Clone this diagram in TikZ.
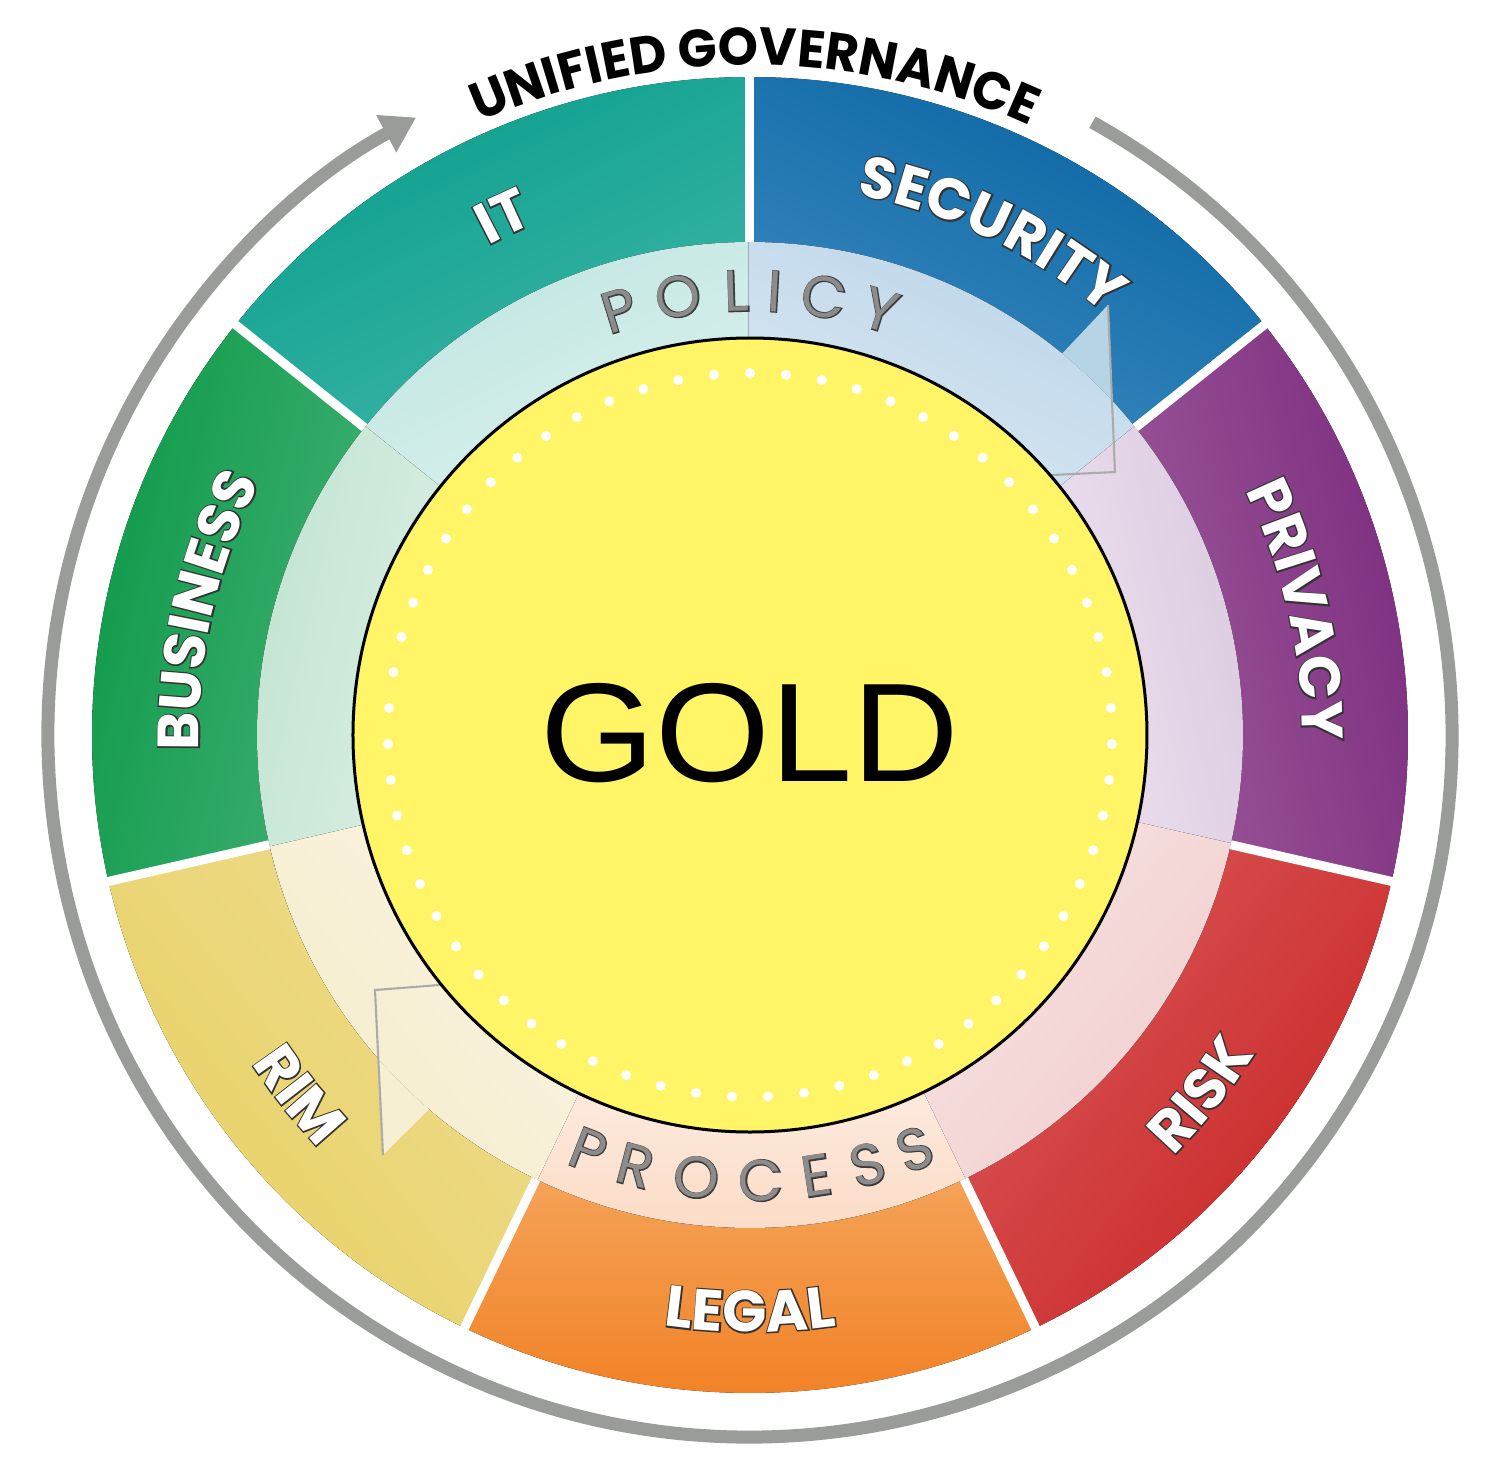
\documentclass[tikz,border=0pt]{standalone}
\usepackage{fontspec}
\usetikzlibrary{decorations.text,arrows.meta}
\newfontfamily\pop{Poppins}
\newfontfamily\popgov{Poppins}[FakeStretch=0.97]
\newfontfamily\popFB{Poppins}[FakeBold=4.5]
\newfontfamily\popFBthin{Poppins}[FakeBold=3.2]
\newfontfamily\goldfont{Liberation Sans}[FakeStretch=1.05]

\definecolor{ringgray}{HTML}{9A9C99}
\definecolor{itD}{HTML}{0A9E8D}\definecolor{itL}{HTML}{3DB5A6}\definecolor{itP}{HTML}{C0E6E1}\definecolor{itQ}{HTML}{DBF1EE}
\definecolor{secD}{HTML}{0865A2}\definecolor{secL}{HTML}{3B89BF}\definecolor{secP}{HTML}{BDD6E9}\definecolor{secQ}{HTML}{D8E7F2}
\definecolor{priD}{HTML}{7A2A7D}\definecolor{priL}{HTML}{9B5799}\definecolor{priP}{HTML}{DBC9DF}\definecolor{priQ}{HTML}{ECE2EF}
\definecolor{riskD}{HTML}{C82626}\definecolor{riskL}{HTML}{DA5555}\definecolor{riskP}{HTML}{F1CDCD}\definecolor{riskQ}{HTML}{F8E3E3}
\definecolor{legD}{HTML}{F17F22}\definecolor{legL}{HTML}{F5A257}\definecolor{legP}{HTML}{FBDAC4}\definecolor{legQ}{HTML}{FDEBDF}
\definecolor{rimD}{HTML}{E8D164}\definecolor{rimL}{HTML}{EEDB8C}\definecolor{rimP}{HTML}{F5ECCA}\definecolor{rimQ}{HTML}{FAF5E3}
\definecolor{busD}{HTML}{0B9847}\definecolor{busL}{HTML}{3FB072}\definecolor{busP}{HTML}{C0E3D0}\definecolor{busQ}{HTML}{DBEFE4}
\definecolor{goldfill}{HTML}{FFF566}
\definecolor{letgray}{HTML}{8C8C8C}
\definecolor{letdark}{HTML}{3C3C3C}
\definecolor{labdark}{HTML}{333333}
\definecolor{headline}{HTML}{ABABAB}
\definecolor{secwing}{HTML}{B7D3E6}
\definecolor{rimwing}{HTML}{F6EFD2}

\newcommand\labO{\popFB\bfseries\fontsize{16.5}{18}\selectfont\color{labdark}}
\newcommand\labW{\pop\bfseries\fontsize{16.5}{18}\selectfont\color{white}}
\newcommand\govfont{\popgov\bfseries\fontsize{15}{17}\selectfont\color{black}}

% sector: centre angle, dark, light, pale outer, pale inner
\newcommand\segsector[5]{%
  \pgfmathsetmacro\sgA{#1+25.714}\pgfmathsetmacro\sgB{#1-25.714}%
  \pgfmathsetmacro\sgS{#1-90}%
  \pgfmathsetmacro\sgAp{#1+25.9}\pgfmathsetmacro\sgBp{#1-25.9}%
  \fill[top color=#2,bottom color=#3,shading angle=\sgS] (\sgA:4.93) arc[start angle=\sgA,end angle=\sgB,radius=4.93] -- (\sgB:6.58) arc[start angle=\sgB,end angle=\sgA,radius=6.58] -- cycle;
  \fill[top color=#4,bottom color=#5,shading angle=\sgS] (\sgAp:3.85) arc[start angle=\sgAp,end angle=\sgBp,radius=3.85] -- (\sgBp:4.93) arc[start angle=\sgBp,end angle=\sgAp,radius=4.93] -- cycle;
}
% label reading clockwise (upper half): angle, radius, text
\newcommand\toplabel[3]{%
  \pgfmathsetmacro\tlA{#1+40}\pgfmathsetmacro\tlB{#1-40}%
  \path[decorate,decoration={text along path,text align=center,text={|\labO|#3}}] (\tlA:#2) arc[start angle=\tlA,end angle=\tlB,radius=#2];
  \path[decorate,decoration={text along path,text align=center,text={|\labW|#3}}] (\tlA:#2) arc[start angle=\tlA,end angle=\tlB,radius=#2];
}
% label reading counter-clockwise (lower half)
\newcommand\botlabel[3]{%
  \pgfmathsetmacro\tlA{#1-40}\pgfmathsetmacro\tlB{#1+40}%
  \path[decorate,decoration={text along path,text align=center,text={|\labO|#3}}] (\tlA:#2) arc[start angle=\tlA,end angle=\tlB,radius=#2];
  \path[decorate,decoration={text along path,text align=center,text={|\labW|#3}}] (\tlA:#2) arc[start angle=\tlA,end angle=\tlB,radius=#2];
}
% spaced band letters: name, angle, letter
\newcommand\topletter[3]{%
  \pgfmathsetmacro\lrot{#2-90}%
  \node[bandO,rotate=\lrot] (#1o) at (#2:4.24) {#3};
  \node[bandW,rotate=\lrot] (#1) at (#2:4.24) {#3};
}
\newcommand\botletter[3]{%
  \pgfmathsetmacro\lrot{#2+90}%
  \node[bandO,rotate=\lrot] (#1o) at (#2:4.66) {#3};
  \node[bandW,rotate=\lrot] (#1) at (#2:4.66) {#3};
}

\tikzset{
  bandO/.style={anchor=base,inner sep=0pt,text=letdark,font=\popFBthin\fontsize{16.5}{18}\selectfont},
  bandW/.style={anchor=base,inner sep=0pt,text=letgray,font=\pop\fontsize{16.5}{18}\selectfont},
  separator/.style={white,line width=0.09cm},
  headedge/.style={headline,line width=0.6pt},
  govring/.style={ringgray,line width=0.13cm,-{Triangle[length=0.34cm,width=0.40cm]}},
}

\begin{document}
\begin{tikzpicture}
\useasboundingbox (-7.5,-7.36) rectangle (7.5,7.35);
\fill[white] (-7.5,-7.36) rectangle (7.5,7.35);

% outer governance ring with arrow
\draw[govring] (60.8:7.02) arc[start angle=60.8,end angle=-241.6,radius=7.02];

% seven sectors
\segsector{115.714}{itD}{itL}{itP}{itQ}
\segsector{64.286}{secD}{secL}{secP}{secQ}
\segsector{12.857}{priD}{priL}{priP}{priQ}
\segsector{-38.571}{riskD}{riskL}{riskP}{riskQ}
\segsector{-90}{legD}{legL}{legP}{legQ}
\segsector{-141.429}{rimD}{rimL}{rimP}{rimQ}
\segsector{167.143}{busD}{busL}{busP}{busQ}

% white separators
\foreach \k in {0,...,6} {
  \pgfmathsetmacro\sa{90-\k*51.428571}
  \draw[separator] (\sa:4.93) -- (\sa:6.68);
}

% POLICY arrow head
\coordinate (pN) at (50.7:4.93);
\coordinate (pW) at (3.58,4.30);
\coordinate (pT) at (3.65,2.63);
\coordinate (pP) at (42.8:4.93);
\coordinate (pE) at (1.98,2.55);
\fill[secwing] (pP) -- (pW) -- (pN) arc[start angle=50.7,end angle=42.8,radius=4.93] -- cycle;
\draw[headedge] (pW) -- (pT) -- (pE);

% PROCESS arrow head
\coordinate (qN) at (229.4:4.93);
\coordinate (qW) at (-3.67,-4.20);
\coordinate (qT) at (-3.75,-2.55);
\coordinate (qP) at (221.1:4.93);
\coordinate (qE) at (-2.08,-2.42);
\fill[rimwing] (qP) -- (qW) -- (qN) arc[start angle=229.4,end angle=221.1,radius=4.93] -- cycle;
\draw[headedge] (qW) -- (qT) -- (qE);

% gold centre
\fill[goldfill] (0,0) circle (3.97);
\draw[black,line width=0.03cm] (0,0) circle (3.97);
\foreach \i in {0,...,62} {
  \pgfmathsetmacro\da{90+\i*5.7142857}
  \fill[white] (\da:3.62) circle (0.05);
}
\node[font=\goldfont\fontsize{40}{40}\selectfont,inner sep=0pt] (gold) at (0,0.015) {GOLD};

% POLICY
\topletter{po1}{107.1}{P}
\topletter{po2}{99.3}{O}
\topletter{po3}{91.7}{L}
\topletter{po4}{86.8}{I}
\topletter{po5}{80.4}{C}
\topletter{po6}{72.9}{Y}
% PROCESS
\botletter{pr1}{-111.25}{P}
\botletter{pr2}{-104.9}{R}
\botletter{pr3}{-96.9}{O}
\botletter{pr4}{-88.6}{C}
\botletter{pr5}{-81.4}{E}
\botletter{pr6}{-74.7}{S}
\botletter{pr7}{-68.3}{S}

% sector labels
\toplabel{115.5}{5.55}{IT}
\toplabel{64.286}{5.51}{SECURITY}
\toplabel{12.857}{5.52}{PRIVACY}
\toplabel{167.143}{5.51}{BUSINESS}
\botlabel{-38.571}{5.97}{RISK}
\botlabel{-90}{5.97}{LEGAL}
\botlabel{-141.429}{5.97}{RIM}

% title
\path[decorate,decoration={text along path,text align=center,text={|\govfont|UNIFIED GOVERNANCE}}] (129.6:6.70) arc[start angle=129.6,end angle=49.6,radius=6.70];
\end{tikzpicture}
\end{document}
